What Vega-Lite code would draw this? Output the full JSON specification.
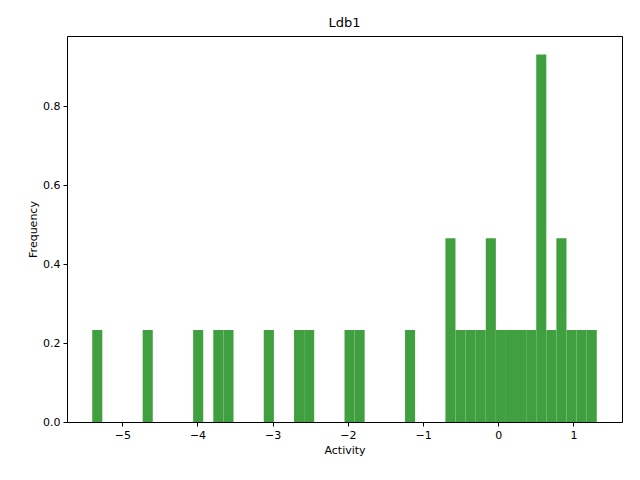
{
  "$schema": "https://vega.github.io/schema/vega-lite/v5.json",
  "autosize": {"type": "none"},
  "padding": {"left": 67, "top": 36, "right": 18, "bottom": 58},
  "width": 555,
  "height": 386,
  "background": "white",
  "config": {
    "font": "DejaVu Sans",
    "view": {"stroke": "black", "strokeWidth": 1},
    "axis": {
      "grid": false,
      "domain": false,
      "tickColor": "black",
      "tickSize": 4,
      "labelColor": "black",
      "labelFontSize": 11,
      "titleFontSize": 11,
      "titleFontWeight": "normal",
      "titleColor": "black",
      "labelPadding": 3
    }
  },
  "title": {"text": "Ldb1", "fontSize": 13, "fontWeight": "normal", "offset": 6},
  "data": {
    "values": [
      {"start": -5.400, "end": -5.266, "density": 0.233},
      {"start": -4.729, "end": -4.595, "density": 0.233},
      {"start": -4.058, "end": -3.924, "density": 0.233},
      {"start": -3.790, "end": -3.655, "density": 0.233},
      {"start": -3.655, "end": -3.521, "density": 0.233},
      {"start": -3.119, "end": -2.984, "density": 0.233},
      {"start": -2.716, "end": -2.582, "density": 0.233},
      {"start": -2.582, "end": -2.448, "density": 0.233},
      {"start": -2.045, "end": -1.911, "density": 0.233},
      {"start": -1.911, "end": -1.777, "density": 0.233},
      {"start": -1.240, "end": -1.106, "density": 0.233},
      {"start": -0.703, "end": -0.569, "density": 0.466},
      {"start": -0.569, "end": -0.435, "density": 0.233},
      {"start": -0.435, "end": -0.300, "density": 0.233},
      {"start": -0.300, "end": -0.166, "density": 0.233},
      {"start": -0.166, "end": -0.032, "density": 0.466},
      {"start": -0.032, "end": 0.102, "density": 0.233},
      {"start": 0.102, "end": 0.236, "density": 0.233},
      {"start": 0.236, "end": 0.371, "density": 0.233},
      {"start": 0.371, "end": 0.505, "density": 0.233},
      {"start": 0.505, "end": 0.639, "density": 0.932},
      {"start": 0.639, "end": 0.773, "density": 0.233},
      {"start": 0.773, "end": 0.907, "density": 0.466},
      {"start": 0.907, "end": 1.041, "density": 0.233},
      {"start": 1.041, "end": 1.176, "density": 0.233},
      {"start": 1.176, "end": 1.310, "density": 0.233}
    ]
  },
  "mark": {"type": "bar", "color": "#40a040", "opacity": 1},
  "encoding": {
    "x": {
      "field": "start", "type": "quantitative", "title": "Activity",
      "scale": {"domain": [-5.7355, 1.6455], "nice": false, "zero": false, "padding": 0},
      "axis": {"values": [-5, -4, -3, -2, -1, 0, 1], "labelExpr": "replace(datum.label, '-', '−')"}
    },
    "x2": {"field": "end"},
    "y": {
      "field": "density", "type": "quantitative", "title": "Frequency",
      "scale": {"domain": [0, 0.9786], "nice": false, "padding": 0},
      "axis": {"values": [0, 0.2, 0.4, 0.6, 0.8], "format": ".1f"}
    },
    "y2": {"datum": 0}
  }
}
